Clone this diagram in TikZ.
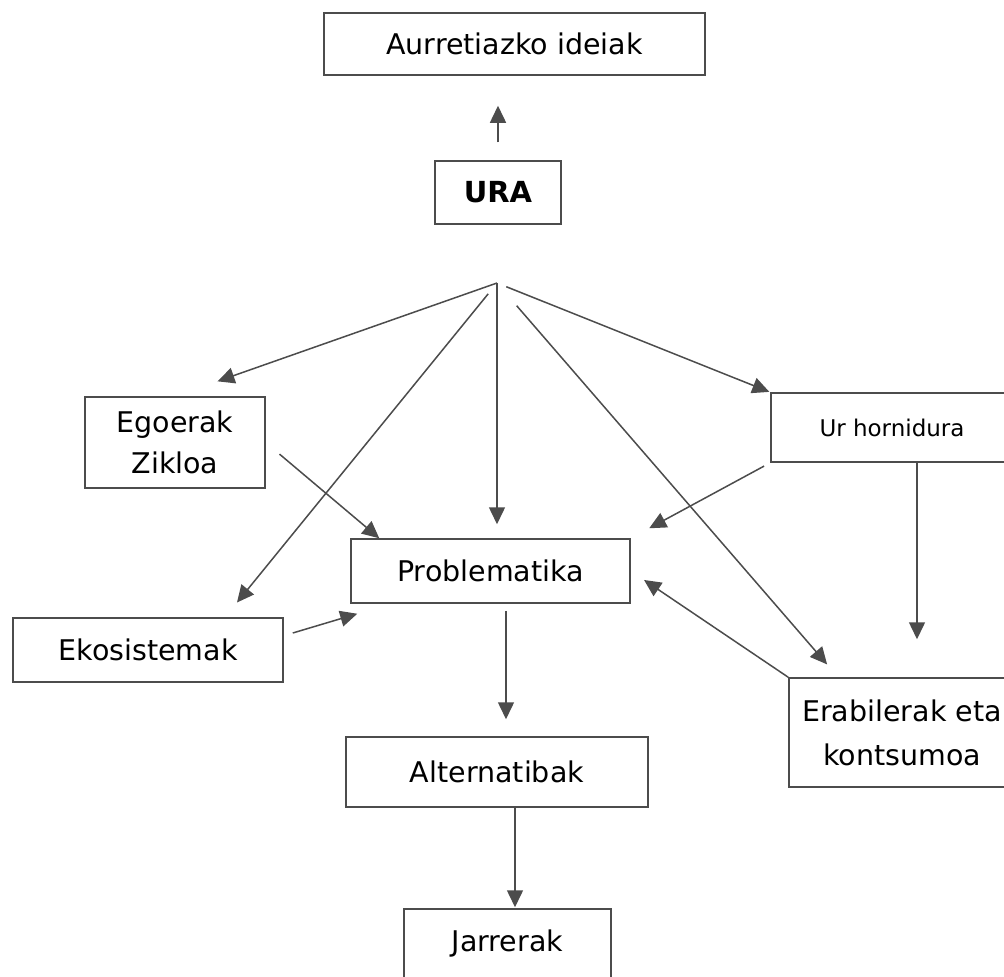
\documentclass[tikz,border=0pt]{standalone}
\usepackage{fontspec}
\setmainfont{DejaVu Sans}
\usetikzlibrary{arrows.meta}
\begin{document}
\begin{tikzpicture}[x=1pt,y=-1pt,
	kutxa/.style={draw=black!70,line width=1.5pt,inner sep=0pt,align=center,font=\fontsize{28.5}{41}\selectfont},
	gezia/.style={draw=black!70,line width=1.5pt,-{Triangle[length=17pt,width=16pt]}}]
	\useasboundingbox (0,0) rectangle (1004,977);
	\clip (0,0) rectangle (1004,977);
	\fill[white] (0,0) rectangle (1004,977);
	\node[kutxa,minimum width=381pt,minimum height=62pt] (ideiak) at (514.5,44) {Aurretiazko ideiak};
	\node[kutxa,minimum width=126pt,minimum height=63pt,font=\fontsize{29}{35}\selectfont\bfseries] (ura) at (498,192.5) {URA};
	\coordinate (gune) at (497,283);
	\node[kutxa,minimum width=180pt,minimum height=91pt] (egoera) at (175,442.5) {Egoerak\\Zikloa};
	\node[kutxa,minimum width=242pt,minimum height=69pt,font=\fontsize{23}{28}\selectfont] (hornidura) at (892,427.5) {Ur hornidura};
	\node[kutxa,minimum width=279pt,minimum height=64pt] (arazo) at (490.5,571) {Problematika};
	\node[kutxa,minimum width=270pt,minimum height=64pt] (ekosis) at (148,650) {Ekosistemak};
	\node[kutxa,minimum width=226pt,minimum height=109pt,font=\fontsize{28.5}{44}\selectfont] (erabil) at (902,732.5) {Erabilerak eta\\kontsumoa};
	\node[kutxa,minimum width=302pt,minimum height=70pt] (alter) at (497,772) {Alternatibak};
	\node[kutxa,minimum width=207pt,minimum height=70pt] (jarrer) at (507.5,944) {Jarrerak};
	%\draw (ura.south) -- (gune);
	\draw[gezia,shorten <=18pt,shorten >=30pt] (ura.north) -- (ura.north |- ideiak.south);
	\draw[gezia,shorten >=45pt] (gune) -- (egoera.north);
	\draw[gezia,shorten <=14pt,shorten >=19pt] (gune) -- ([xshift=77pt]ekosis.north);
	\draw[gezia,shorten >=14pt] (gune) -- (gune |- arazo.north);
	\draw[gezia,shorten <=10pt,shorten >=1pt] (gune) -- (hornidura.north west);
	\draw[gezia,shorten <=30pt,shorten >=17pt] (gune) -- ([xshift=50pt]erabil.north west);
	\draw[gezia,shorten <=18pt] (egoera.east) -- ([xshift=29pt]arazo.north west);
	\draw[gezia] ([xshift=9pt,yshift=17pt]ekosis.east) -- ([xshift=7pt,yshift=-10pt]arazo.south west);
	\draw[gezia,shorten <=7pt,shorten >=21pt] (hornidura.south west) -- (arazo.north east);
	\coordinate (h1) at ([xshift=25pt]hornidura.south);
	\draw[gezia,shorten >=38pt] (h1) -- (h1 |- erabil.north);
	\draw[gezia,shorten >=16pt] (erabil.north west) -- (arazo.east);
	\coordinate (p1) at ([xshift=15.5pt]arazo.south);
	\draw[gezia,shorten <=7pt,shorten >=17pt] (p1) -- (p1 |- alter.north);
	\coordinate (a1) at ([xshift=18pt]alter.south);
	\draw[gezia,shorten >=1pt] (a1) -- (a1 |- jarrer.north);
\end{tikzpicture}
\end{document}
